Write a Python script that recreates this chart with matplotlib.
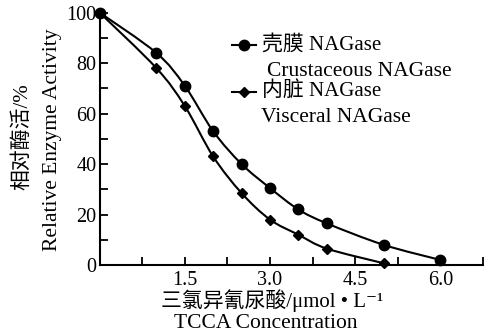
import numpy as np
import matplotlib
matplotlib.use('Agg')
import matplotlib.pyplot as plt
from matplotlib.path import Path
from matplotlib.patches import PathPatch
from matplotlib.ticker import MultipleLocator, FixedLocator, FixedFormatter

plt.rcParams['font.family'] = ['Liberation Serif', 'Noto Sans CJK SC', 'DejaVu Sans']

# TCCA concentration (umol/L) and relative activity (%)
conc_shell = [0, 1.0, 1.5, 2.0, 2.5, 3.0, 3.5, 4.0, 5.0, 6.0]
act_shell = [100, 84, 71, 53, 40, 30.5, 22, 16.5, 8, 2]
conc_visc = [0, 1.0, 1.5, 2.0, 2.5, 3.0, 3.5, 4.0, 5.0]
act_visc = [100, 78, 63, 43, 28.5, 18, 12, 6.5, 0.7]

x_ticks = [1.5, 3.0, 4.5, 6.0]
x_ticklabels = ['1.5', '3.0', '4.5', '6.0']
y_ticks = [0, 20, 40, 60, 80, 100]


def smooth_path(xs, ys):
    # catmull-rom through the points, drawn as cubic bezier pieces
    pts = np.column_stack([xs, ys]).astype(float)
    verts = [pts[0]]
    codes = [Path.MOVETO]
    n = len(pts)
    for i in range(n - 1):
        p0 = pts[i - 1] if i > 0 else pts[i]
        p1 = pts[i]
        p2 = pts[i + 1]
        p3 = pts[i + 2] if i + 2 < n else pts[i + 1]
        c1 = p1 + (p2 - p0) / 6
        c2 = p2 - (p3 - p1) / 6
        verts += [c1, c2, p2]
        codes += [Path.CURVE4] * 3
    return Path(verts, codes)


fig = plt.figure(figsize=(4.92, 3.35), dpi=100)
ax = fig.add_axes([99.5 / 492, 1 - 265 / 335, 383.5 / 492, 254 / 335])

for xs, ys, mk, ms in [(conc_shell, act_shell, 'o', 7.5), (conc_visc, act_visc, 'D', 5.2)]:
    ax.add_patch(PathPatch(smooth_path(xs, ys), fill=False, lw=1.5, ec='black', clip_on=False))
    ax.plot(xs, ys, ls='none', marker=mk, ms=ms, color='black', clip_on=False, zorder=3)

ax.set_xlim(0, 6.75)
ax.set_ylim(0, 100.6)
ax.spines['top'].set_visible(False)
ax.spines['right'].set_visible(False)
ax.spines['left'].set_linewidth(1.5)
ax.spines['bottom'].set_linewidth(1.5)

ax.xaxis.set_major_locator(FixedLocator(x_ticks))
ax.xaxis.set_major_formatter(FixedFormatter(x_ticklabels))
ax.xaxis.set_minor_locator(MultipleLocator(0.75))
ax.yaxis.set_major_locator(FixedLocator(y_ticks))
ax.yaxis.set_minor_locator(MultipleLocator(10))
ax.tick_params(which='both', direction='in', length=6, width=1.3, labelsize=14.5)
ax.tick_params(axis='x', pad=4)
ax.tick_params(axis='y', pad=2)

# legend drawn by hand
for ly, mk, ms, t1, t2, x2 in [(45, 'o', 7.5, '壳膜 NAGase', 'Crustaceous NAGase', 267),
                                (92, 'D', 5.2, '内脏 NAGase', 'Visceral NAGase', 261)]:
    fy = 1 - ly / 335
    fig.lines.append(plt.Line2D([232 / 492, 256 / 492], [fy, fy], lw=1.5, color='black',
                                transform=fig.transFigure))
    fig.lines.append(plt.Line2D([244 / 492], [fy], ls='none', color='black',
                                marker=mk, ms=ms, transform=fig.transFigure))
    fig.text(262 / 492, fy, t1, fontsize=15, va='center', ha='left')
    fig.text(x2 / 492, 1 - (ly + 26) / 335, t2, fontsize=15.5, va='center', ha='left')

fig.text(22 / 492, 1 - 137 / 335, '相对酶活/%', rotation=90, fontsize=15, va='center', ha='center')
fig.text(53 / 492, 1 - 140 / 335, 'Relative Enzyme Activity', rotation=90, fontsize=15.5,
         va='center', ha='center')
fig.text(272 / 492, 1 - 301 / 335, '三氯异氰尿酸/μmol • L⁻¹', fontsize=15,
         va='center', ha='center')
fig.text(266 / 492, 1 - 323 / 335, 'TCCA Concentration', fontsize=15.5, va='center', ha='center')

fig.savefig('out.png', dpi=100)
